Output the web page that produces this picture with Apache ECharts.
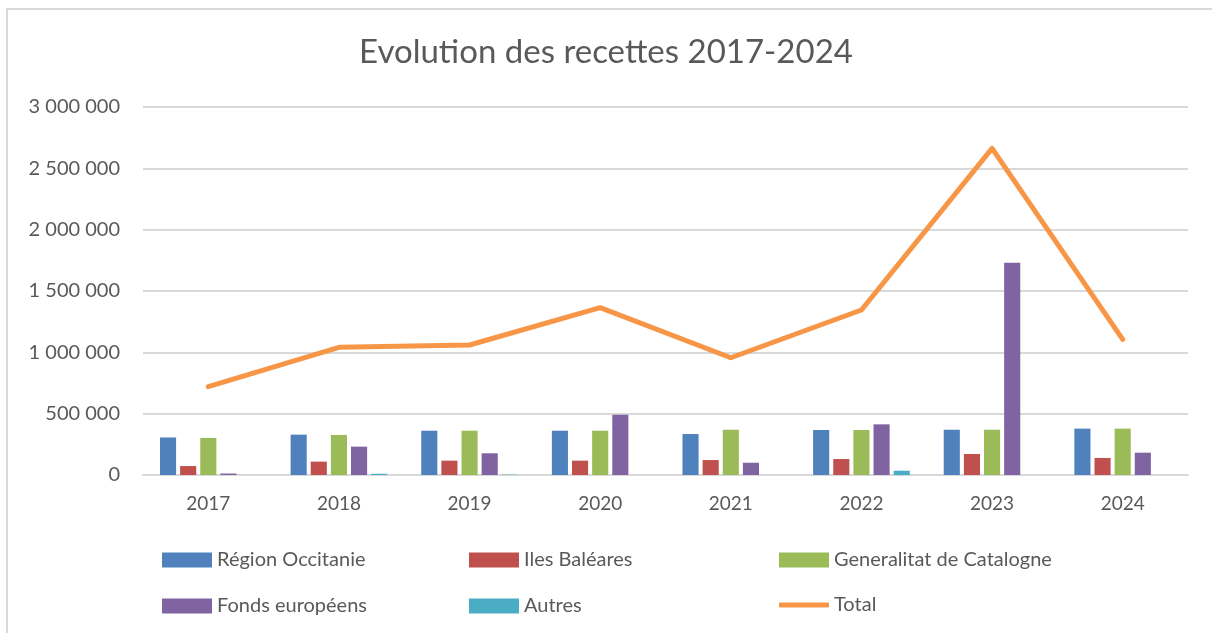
<!DOCTYPE html>
<html>
<head>
<meta charset="utf-8">
<script src="https://cdn.jsdelivr.net/npm/echarts@6/dist/echarts.min.js"></script>
<style>
  html, body { margin: 0; padding: 0; background: #fff; }
  #frame {
    position: absolute; left: 6px; top: 8px; width: 1230px; height: 640px;
    border: 2px solid #d9d9d9; box-sizing: border-box;
  }
  #chart { position: absolute; left: 0; top: 0; width: 1212px; height: 633px; }
</style>
</head>
<body>
<div id="frame"></div>
<div id="chart"></div>
<script>
const years = ['2017', '2018', '2019', '2020', '2021', '2022', '2023', '2024']
const occitanie = [306000, 329000, 361000, 361000, 334000, 367000, 369000, 378000]
const baleares = [73000, 109000, 117000, 117000, 122000, 130000, 171000, 139000]
const catalogne = [302000, 326000, 361000, 361000, 369000, 367000, 369000, 378000]
const fondsEuropeens = [12000, 231000, 177000, 492000, 100000, 413000, 1731000, 182000]
const autres = [0, 10000, 3000, 0, 0, 35000, 0, 0]
const total = [720000, 1041000, 1060000, 1364000, 956000, 1345000, 2663000, 1106000]
const yTicks = [0, 500000, 1000000, 1500000, 2000000, 2500000, 3000000]

const chart = echarts.init(document.getElementById('chart'))
const font = 'Lato, "Open Sans", sans-serif'
const txt = '#595959'

// espace comme séparateur de milliers
const fmt = v => String(v).replace(/\B(?=(\d{3})+(?!\d))/g, ' ')

function bar(name, data, color) {
  return {
    name, type: 'bar', data,
    barGap: '25%', barCategoryGap: '26%',
    itemStyle: { color }
  }
}

const legendBase = {
  orient: 'vertical',
  top: 545,
  icon: 'rect',
  itemWidth: 50,
  itemHeight: 15,
  itemGap: 26,
  textStyle: { color: txt, fontFamily: font, fontSize: 20 }
}

chart.setOption({
  animation: false,
  title: {
    text: 'Evolution des recettes 2017-2024',
    left: 'center',
    top: 31,
    textStyle: { color: txt, fontFamily: font, fontSize: 33, fontWeight: 'normal' }
  },
  legend: [
    { ...legendBase, left: 157, data: ['Région Occitanie', 'Fonds européens'] },
    { ...legendBase, left: 464, data: ['Iles Baléares', 'Autres'] },
    { ...legendBase, left: 774, data: ['Generalitat de Catalogne'] },
    { ...legendBase, left: 774, top: 590, icon: 'roundRect', itemHeight: 5, data: ['Total'] }
  ],
  grid: { left: 143, right: 24, top: 107, bottom: 158 },
  xAxis: {
    type: 'category',
    data: years,
    axisLine: { lineStyle: { color: '#d9d9d9', width: 2 } },
    axisTick: { show: false },
    axisLabel: { color: txt, fontFamily: font, fontSize: 19, margin: 19 }
  },
  yAxis: {
    type: 'value',
    min: 0, max: yTicks[yTicks.length - 1], interval: 500000,
    axisLine: { show: false },
    axisTick: { show: false },
    splitLine: { lineStyle: { color: '#d9d9d9', width: 2 } },
    axisLabel: { color: txt, fontFamily: font, fontSize: 20, margin: 23, formatter: fmt }
  },
  series: [
    bar('Région Occitanie', occitanie, '#4f81bd'),
    bar('Iles Baléares', baleares, '#c0504d'),
    bar('Generalitat de Catalogne', catalogne, '#9bbb59'),
    bar('Fonds européens', fondsEuropeens, '#8064a2'),
    bar('Autres', autres, '#4bacc6'),
    {
      name: 'Total', type: 'line', data: total,
      symbol: 'none',
      itemStyle: { color: '#f79646' },
      lineStyle: { color: '#f79646', width: 5, cap: 'round', join: 'round' }
    }
  ]
})
</script>
</body>
</html>
